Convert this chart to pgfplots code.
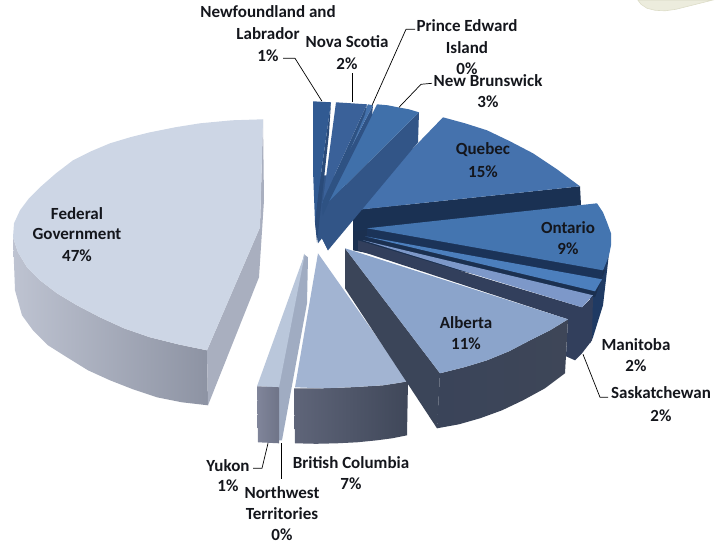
\documentclass[border=0pt]{standalone}
\usepackage{pgfplots}
\pgfplotsset{compat=1.18}
\usepackage{fontspec}
\setmainfont{Carlito}
\definecolor{txt}{HTML}{14161C}
\newcommand{\dc}[1]{\definecolor{#1}{HTML}{#1}}
\dc{ECECDD}\dc{DDDDC8}\dc{BEC3D1}\dc{8D93A3}\dc{A9AFBF}\dc{CDD6E5}\dc{A0ACC2}\dc{BAC7DB}
\definecolor{c80859A}{HTML}{80859A}\definecolor{c6F7488}{HTML}{6F7488}
\definecolor{c5F6579}{HTML}{5F6579}\definecolor{c3F4759}{HTML}{3F4759}
\dc{A2B4D2}\definecolor{c1F3A63}{HTML}{1F3A63}\definecolor{c1B3050}{HTML}{1B3050}
\definecolor{c1A3153}{HTML}{1A3153}\definecolor{c4572AD}{HTML}{4572AD}
\definecolor{c1B3358}{HTML}{1B3358}\definecolor{c4475B0}{HTML}{4475B0}
\definecolor{c1F3760}{HTML}{1F3760}\definecolor{c4C7FBD}{HTML}{4C7FBD}
\definecolor{c323F5C}{HTML}{323F5C}\definecolor{c7D98C9}{HTML}{7D98C9}
\definecolor{c3B4559}{HTML}{3B4559}\definecolor{c3A4459}{HTML}{3A4459}\definecolor{c3E4658}{HTML}{3E4658}
\dc{8BA4CB}\definecolor{c325587}{HTML}{325587}\definecolor{c4070AA}{HTML}{4070AA}
\definecolor{c2F5284}{HTML}{2F5284}\definecolor{c4472AC}{HTML}{4472AC}
\definecolor{c2E5283}{HTML}{2E5283}\definecolor{c3A6199}{HTML}{3A6199}
\definecolor{c2A4B7A}{HTML}{2A4B7A}\definecolor{c315A92}{HTML}{315A92}
\newcommand{\lab}[3]{\node[font=\fontsize{17}{19}\selectfont\bfseries,text=txt,inner sep=0pt,anchor=center] at (axis cs:#1,#2) {#3};}
\begin{document}
\begin{tikzpicture}
\begin{axis}[scale only axis,width=724pt,height=544pt,xmin=0,xmax=724,ymin=0,ymax=544,y dir=reverse,axis lines=none,clip=false]
% full canvas
\addplot[draw=none,forget plot] coordinates {(0,0)(724,0)(724,544)(0,544)} --cycle;
% blob top right
\addplot[fill=ECECDD,draw=DDDDC8,line width=0.6pt] coordinates {(638,0)(641,4)(647,8)(655,10)(665,10.5)(676,9)(688,6)(700,3)(712,0)} --cycle;
% Federal
\addplot[draw=none,left color=BEC3D1,right color=8D93A3] coordinates {(13,237)(15,290)(22,315)(33,330)(48,345)(67,357)(88,370)(110,380)(133,389)(157,397)(182,402)(208,405)(207,350)(178,344)(150,337)(124,328)(100,317)(77,305)(57,293)(40,280)(27,267)(18,252)} --cycle;
\addplot[draw=none,fill=A9AFBF] coordinates {(263,119)(264,200)(259,277)(208,405)(207,350)(260,227)} --cycle;
\addplot[draw=none,fill=CDD6E5] coordinates {(263,119)(260,227)(207,350)(178,344)(150,337)(124,328)(100,317)(77,305)(57,293)(40,280)(27,267)(18,252)(13,237)(14,223)(20,210)(29,198)(40,187)(56,173)(73,160)(91,151)(110,143)(130,137)(150,132)(175,127)(200,123)(232,120)} --cycle;
% NWT + Yukon
\addplot[draw=none,fill=A0ACC2] coordinates {(304,254)(308,257)(307,303)(282,440)(279,440)(278,387)} --cycle;
\addplot[draw=none,fill=BAC7DB] coordinates {(305,253)(279,387)(257,386)} --cycle;
\addplot[draw=none,left color=c80859A,right color=c6F7488] coordinates {(257,386)(279,387)(279,443)(258,442)} --cycle;
% British Columbia
\addplot[draw=none,left color=c5F6579,right color=c3F4759] coordinates {(294,388)(322,388)(350,387)(367,386)(383,385)(396,383)(408,381)(407,435)(392,438)(377,440)(357,442)(337,443)(316,443.5)(295,443)} --cycle;
\addplot[draw=none,fill=A2B4D2] coordinates {(318,253)(408,381)(396,383)(383,385)(367,386)(350,387)(322,388)(295,387)} --cycle;
% Ontario/Manitoba outer walls
\addplot[draw=none,fill=c1F3A63] coordinates {(611,233)(608,262)(603,305)(593,337)(590,343)(590,296)(602,279)(603,270)} --cycle;
% dark centre column and dark gaps between the slices
\addplot[draw=none,fill=c1B3050] coordinates {(353,210)(400,205)(605,270)(595,297)(353,250)} --cycle;
% Quebec
\addplot[draw=none,fill=c1A3153] coordinates {(353,210)(580,186)(581,205)(353,231)} --cycle;
\addplot[draw=none,fill=c4572AD] coordinates {(353,210)(443,117)(465,123)(487,130)(510,141)(533,153)(557,169)(580,186)} --cycle;
% Ontario
\addplot[draw=none,fill=c1B3358] coordinates {(367,228)(603,270)(602,279)(367,238)} --cycle;
\addplot[draw=none,fill=c4475B0] coordinates {(367,228)(597,203)(603,212)(607,222)(611,233)(611,245)(609,255)(606,263)(603,270)} --cycle;
% Manitoba
\addplot[draw=none,fill=c4C7FBD] coordinates {(365,236)(602,279)(595,291)} --cycle;
% Saskatchewan
\addplot[draw=none,fill=c323F5C] coordinates {(358,240)(582,307)(593,296)(592,340)(582,353)(575,360)(566,356)(568,319)(358,250)} --cycle;
\addplot[draw=none,fill=c7D98C9] coordinates {(363,240)(593,295)(582,307)} --cycle;
% Alberta
\addplot[draw=none,fill=c3B4559] coordinates {(345,248)(440,373)(437,428)(345,288)} --cycle;
\addplot[draw=none,left color=c3A4459,right color=c3E4658] coordinates {(440,373)(464,367)(487,360)(509,351)(530,340)(550,330)(568,319)(565,373)(545,388)(523,400)(502,410)(480,418)(459,424)(437,428)} --cycle;
\addplot[draw=none,fill=8BA4CB] coordinates {(345,248)(568,319)(550,330)(530,340)(509,351)(487,360)(464,367)(440,373)} --cycle;
% walls meeting at the centre
\addplot[draw=none,fill=c325587] coordinates {(316,175)(345,175)(328,250)(322,238)(318,243)(315,222)} --cycle;
% New Brunswick
\addplot[draw=none,fill=c325587] coordinates {(419,112)(418,142)(328,250)(322,238)(322,215)(328,202)} --cycle;
\addplot[draw=none,fill=c4070AA] coordinates {(328,202)(377,104)(388,105)(398,107)(409,109)(419,112)} --cycle;
% PEI
\addplot[draw=none,fill=c2F5284] coordinates {(373,105)(372,115)(322,215)(322,203)} --cycle;
\addplot[draw=none,fill=c4472AC] coordinates {(368,104)(373,105)(322,203)} --cycle;
% Nova Scotia
\addplot[draw=none,fill=c2E5283] coordinates {(367,104)(365,114)(323,215)(323,200)} --cycle;
\addplot[draw=none,fill=c3A6199] coordinates {(323,200)(336,102)(367,104)} --cycle;
% Newfoundland
\addplot[draw=none,fill=c2A4B7A] coordinates {(331,102)(329,133)(320,215)(317,242)(315,222)(318,195)} --cycle;
\addplot[draw=none,fill=c315A92] coordinates {(313,101)(331,102)(318,195)(315,222)(313,170)} --cycle;
% leaders
\addplot[black,line width=0.7pt] coordinates {(283,58)(295,58)(322,101)};
\addplot[black,line width=0.7pt] coordinates {(352,73)(352,102)};
\addplot[black,line width=0.7pt] coordinates {(415,29)(406,29)(372,105)};
\addplot[black,line width=0.7pt] coordinates {(432,83)(421,84)(399,107)};
\addplot[black,line width=0.7pt] coordinates {(583,354)(600,397)(608,397)};
\addplot[black,line width=0.7pt] coordinates {(253,468)(262,468)(268,443)};
\addplot[black,line width=0.7pt] coordinates {(281,443)(281,479)};
% labels
\lab{268}{11}{Newfoundland and}\lab{268}{33}{Labrador}\lab{268}{55}{1\%}
\lab{347}{41}{Nova Scotia}\lab{347}{63}{2\%}
\lab{467}{25}{Prince Edward}\lab{467}{47}{Island}\lab{467}{68}{0\%}
\lab{488}{80}{New Brunswick}\lab{488}{101}{3\%}
\lab{483}{149}{Quebec}\lab{483}{171}{15\%}
\lab{568}{227}{Ontario}\lab{568}{248}{9\%}
\lab{466}{322}{Alberta}\lab{466}{343}{11\%}
\lab{636}{344}{Manitoba}\lab{636}{365}{2\%}
\lab{661}{392}{Saskatchewan}\lab{661}{415}{2\%}
\lab{351}{462}{British Columbia}\lab{351}{483}{7\%}
\lab{228}{465}{Yukon}\lab{228}{485}{1\%}
\lab{282}{492}{Northwest}\lab{282}{513}{Territories}\lab{282}{534}{0\%}
\lab{77}{213}{Federal}\lab{77}{234}{Government}\lab{77}{255}{47\%}
\end{axis}
\end{tikzpicture}
\end{document}
